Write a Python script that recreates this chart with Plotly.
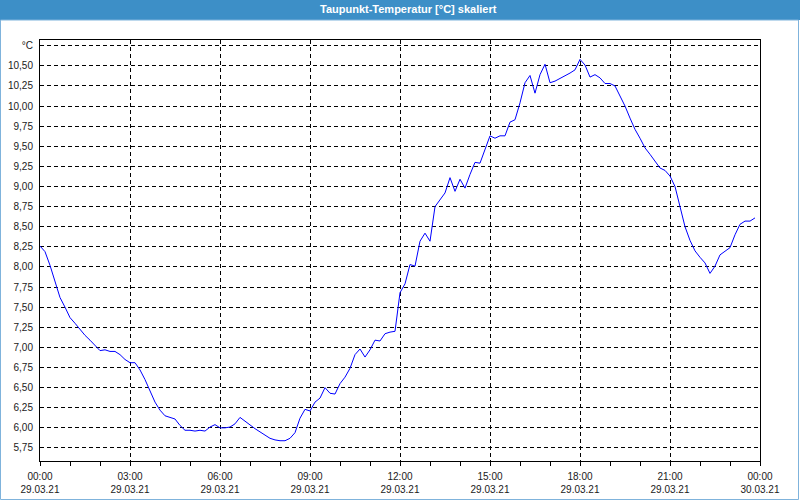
import pandas as pd
import plotly.graph_objects as go

# dew point readings, one every 10 minutes from 29.03.21 00:00
START = "2021-03-29 00:00"
dew_point = [
    8.26, 8.19, 8.02, 7.82, 7.62, 7.50, 7.37, 7.30, 7.22, 7.15, 7.09, 7.02,
    6.96, 6.97, 6.95, 6.95, 6.91, 6.85, 6.81, 6.81, 6.72, 6.60, 6.45, 6.32,
    6.22, 6.15, 6.13, 6.11, 6.03, 5.97, 5.97, 5.96, 5.97, 5.96, 6.01, 6.04,
    6.00, 6.00, 6.01, 6.05, 6.13, 6.08, 6.03, 5.99, 5.95, 5.91, 5.87, 5.85,
    5.84, 5.84, 5.87, 5.94, 6.12, 6.23, 6.21, 6.32, 6.37, 6.50, 6.43, 6.42,
    6.55, 6.63, 6.74, 6.91, 6.98, 6.88, 6.97, 7.09, 7.08, 7.17, 7.19, 7.20,
    7.68, 7.79, 8.03, 8.01, 8.32, 8.42, 8.32, 8.75, 8.84, 8.92, 9.11, 8.94,
    9.09, 8.98, 9.15, 9.30, 9.29, 9.46, 9.63, 9.60, 9.63, 9.63, 9.80, 9.83,
    10.04, 10.29, 10.38, 10.16, 10.39, 10.52, 10.29, 10.31, 10.34, 10.37, 10.41, 10.45,
    10.58, 10.51, 10.36, 10.39, 10.35, 10.28, 10.28, 10.25, 10.13, 10.00, 9.85, 9.71,
    9.60, 9.48, 9.40, 9.31, 9.23, 9.20, 9.13, 9.00, 8.75, 8.50, 8.33, 8.20,
    8.12, 8.05, 7.92, 8.01, 8.15, 8.19, 8.24, 8.40, 8.53, 8.57, 8.57, 8.61,
]
times = pd.date_range(START, periods=len(dew_point), freq="10min")

x_ticks = pd.date_range(START, periods=9, freq="3h")
x_labels = [f"{t:%H:%M}<br>{t:%d.%m.%y}" for t in x_ticks]
y_ticks = [5.75, 6.0, 6.25, 6.5, 6.75, 7.0, 7.25, 7.5, 7.75, 8.0, 8.25,
           8.5, 8.75, 9.0, 9.25, 9.5, 9.75, 10.0, 10.25, 10.5, 10.75]
y_labels = [f"{v:.2f}".replace(".", ",") for v in y_ticks[:-1]] + ["°C"]

title = "Taupunkt-Temperatur [°C] skaliert"
FONT = "Liberation Sans"
BAR = "#3d8fc7"

fig = go.Figure(go.Scatter(x=times, y=dew_point, mode="lines",
                           line=dict(color="#0000ff", width=1), hoverinfo="skip"))

W, H = 720, 421  # plot area in px (800x500 minus margins)
fig.add_shape(type="rect", xref="paper", yref="paper", layer="below",
              x0=-40 / W, x1=1 + 40 / W, y0=1 + 20 / H, y1=1 + 40 / H,
              fillcolor=BAR, line_width=0)
fig.add_shape(type="rect", xref="paper", yref="paper",
              x0=-39.5 / W, x1=1 + 38.5 / W, y0=-38.5 / H, y1=1 + 20 / H,
              line=dict(color="#7fb3dc", width=1), fillcolor="rgba(0,0,0,0)")
fig.add_annotation(text=f"<b>{title}</b>", xref="paper", yref="paper",
                   x=0.5, y=1 + 31 / H, xshift=8, yanchor="middle", showarrow=False,
                   font=dict(family=FONT, size=11, color="white"))

axis_common = dict(showline=True, linecolor="black", linewidth=1, mirror=True,
                   showgrid=True, gridcolor="black", gridwidth=1, griddash="4px,3px",
                   zeroline=False, automargin=False,
                   tickfont=dict(family=FONT, size=10, color="#1a1a1a"))
fig.update_xaxes(**axis_common, range=[x_ticks[0], x_ticks[-1]],
                 tickvals=x_ticks, ticktext=x_labels,
                 ticks="outside", ticklen=4, tickcolor="black", ticklabelstandoff=2,
                 minor=dict(dtick=3600000, ticks="outside", ticklen=4,
                            tickcolor="black", showgrid=False))
fig.update_yaxes(**axis_common, range=[5.588, 10.821],
                 tickvals=y_ticks, ticktext=y_labels, ticks="", ticklabelstandoff=4)

fig.update_layout(width=800, height=500, margin=dict(l=40, r=40, t=40, b=39),
                  paper_bgcolor="white", plot_bgcolor="white", showlegend=False)
fig.write_html("out.html", config={"displayModeBar": False},
               post_script="document.body.style.margin='0';")
